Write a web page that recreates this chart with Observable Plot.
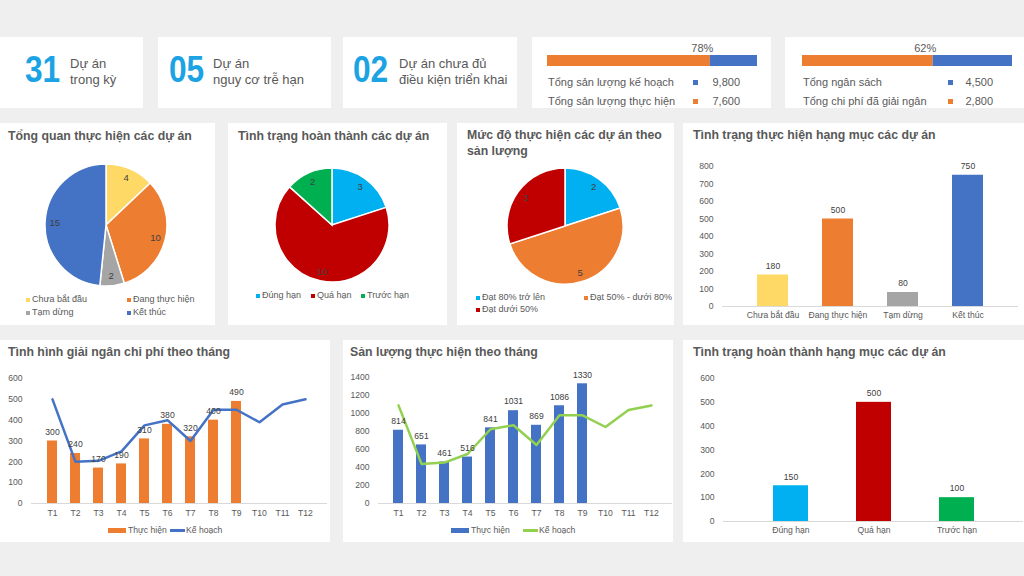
<!DOCTYPE html>
<html><head><meta charset="utf-8">
<script src="https://cdn.jsdelivr.net/npm/d3@7"></script>
<script src="https://cdn.jsdelivr.net/npm/@observablehq/plot@0.6"></script>
<style>
body{margin:0;background:#efefef;font-family:"Liberation Sans",Arial,sans-serif;}
#dash{position:relative;width:1024px;height:576px;overflow:hidden;background:#efefef}
.pn{position:absolute;background:#fff}
.t{position:absolute;white-space:nowrap;color:#595959;line-height:1}
.ttl{position:absolute;white-space:nowrap;color:#595959;font-weight:bold;font-size:12.3px;line-height:16px}
.abs{position:absolute}
.sq{position:absolute;width:5px;height:5px}
</style></head><body><div id="dash"></div>
<script>
// ---------- DATA ----------
const kpiNumbers = ["31", "05", "02"];
const kpiLabels = [["Dự án", "trong kỳ"], ["Dự án", "nguy cơ trễ hạn"], ["Dự án chưa đủ", "điều kiện triển khai"]];
const outputPlanTotal = 9800, outputActualTotal = 7600;
const budgetTotal = 4500, budgetSpent = 2800;
const outputLegend = ["Tổng sản lượng kế hoạch", "Tổng sản lượng thực hiện"];
const budgetLegend = ["Tổng ngân sách", "Tổng chi phí đã giải ngân"];

const statusCats = ["Chưa bắt đầu", "Đang thực hiện", "Tạm dừng", "Kết thúc"];
const statusProjects = [4, 10, 2, 15];
const statusColors = ["#ffd966", "#ed7d31", "#a5a5a5", "#4472c4"];

const doneCats = ["Đúng hạn", "Quá hạn", "Trước hạn"];
const doneProjects = [3, 10, 2];
const doneColors = ["#00b0f0", "#c00000", "#00b050"];

const levelCats = ["Đạt 80% trở lên", "Đạt 50% - dưới 80%", "Đạt dưới 50%"];
const levelProjects = [2, 5, 3];
const levelColors = ["#00b0f0", "#ed7d31", "#c00000"];

const statusItems = [180, 500, 80, 750];
const doneItems = [150, 500, 100];

const months = ["T1","T2","T3","T4","T5","T6","T7","T8","T9","T10","T11","T12"];
const costActual = [300, 240, 170, 190, 310, 380, 320, 400, 490];
const costPlan = [500, 200, 205, 250, 375, 400, 300, 450, 450, 390, 475, 500];
const outActual = [814, 651, 461, 516, 841, 1031, 869, 1086, 1330];
const outPlan = [1090, 440, 455, 550, 825, 870, 650, 980, 980, 850, 1040, 1090];

// ---------- HELPERS ----------
const dash = document.getElementById("dash");
const FONT = '"Liberation Sans", Arial, sans-serif';
function panel(x, y, w, h) { const d = document.createElement("div"); d.className = "pn"; Object.assign(d.style, {left: x+"px", top: y+"px", width: w+"px", height: h+"px"}); dash.appendChild(d); }
function text(x, y, s, css = {}, cls = "t") { const d = document.createElement("div"); d.className = cls; d.textContent = s; Object.assign(d.style, {left: x+"px", top: y+"px"}, css); dash.appendChild(d); return d; }
function sq(x, y, c, w = 5, h = 5) { const d = document.createElement("div"); d.className = "sq"; Object.assign(d.style, {left: x+"px", top: y+"px", width: w+"px", height: h+"px", background: c}); dash.appendChild(d); }
function place(svg, x, y) { svg.classList.add("abs"); svg.style.left = x + "px"; svg.style.top = y + "px"; dash.appendChild(svg); }
const baseStyle = {fontFamily: FONT, fontSize: "8.6px", color: "#595959", background: "transparent", overflow: "visible"};
const plain = d3.format("d");

// ---------- PANELS ----------
panel(0, 37, 143, 71); panel(158, 37, 173, 71); panel(343, 37, 174, 71);
panel(532, 37, 239, 71); panel(785, 37, 239, 71);
panel(0, 123, 215, 202); panel(228, 123, 219, 202); panel(457, 123, 217, 202); panel(683, 123, 341, 202);
panel(0, 340, 330, 202); panel(343, 340, 330, 202); panel(683, 340, 341, 202);

// ---------- KPI ----------
const kpiX = [[25, 70], [169, 213], [353, 399]];
kpiNumbers.forEach((n, i) => {
  text(kpiX[i][0], 52, n, {fontSize: "36px", fontWeight: "bold", color: "#1ca3e3", transform: "scaleX(0.88)", transformOrigin: "left"});
  text(kpiX[i][1], 57, kpiLabels[i][0], {fontSize: "13px"});
  text(kpiX[i][1], 73, kpiLabels[i][1], {fontSize: "13px"});
});

function progress(x, total, part, legend, values, mx, vxr) {
  const pct = Math.round(part / total * 100) + "%";
  place(Plot.plot({
    width: 210, height: 26, marginTop: 15, marginBottom: 0, marginLeft: 0, marginRight: 0,
    style: {...baseStyle, fontSize: "11px"},
    x: {domain: [0, total], axis: null},
    marks: [
      Plot.barX([{a: 0, b: part}], {x1: "a", x2: "b", fill: "#ed7d31"}),
      Plot.barX([{a: part, b: total}], {x1: "a", x2: "b", fill: "#4472c4"}),
      Plot.text([{v: part, t: pct}], {x: "v", text: "t", frameAnchor: "top", lineAnchor: "middle", dy: -7, dx: -8, fill: "#595959"})
    ]
  }), x, 40);
  const cols = ["#4472c4", "#ed7d31"];
  [0, 1].forEach(i => {
    const y = i === 0 ? 83 : 102;
    text(x + 1, y - 6, legend[i], {fontSize: "11px"});
    sq(mx, y - 3, cols[i]);
    text(vxr - 60, y - 6, d3.format(",")(values[i]), {fontSize: "11px", width: "60px", textAlign: "right"});
  });
}
progress(547, outputPlanTotal, outputActualTotal, outputLegend, [outputPlanTotal, outputActualTotal], 693, 740);
progress(802, budgetTotal, budgetSpent, budgetLegend, [budgetTotal, budgetSpent], 948, 993);

// ---------- PIES ----------
function pie(vals, colors, cx, cy, r) {
  const size = 2 * r + 6;
  const arcs = d3.pie().sort(null).value(d => d)(vals);
  const render = (index, scales, values, dims) => {
    const g = d3.create("svg:g").attr("transform", `translate(${dims.width / 2},${dims.height / 2})`);
    const arc = d3.arc().innerRadius(0).outerRadius(r);
    g.selectAll("path").data(arcs).join("path").attr("d", arc).attr("fill", (d, i) => colors[i]).attr("stroke", "#fff").attr("stroke-width", 1.5);
    const la = d3.arc().innerRadius(r * 0.84).outerRadius(r * 0.84);
    g.selectAll("text").data(arcs).join("text").attr("transform", d => `translate(${la.centroid(d)})`)
      .attr("text-anchor", "middle").attr("dy", "0.35em").attr("fill", "#404040").attr("font-size", "9.5px").text(d => d.data);
    return g.node();
  };
  place(Plot.plot({width: size, height: size, margin: 0, style: baseStyle, marks: [render]}), cx - size / 2, cy - size / 2);
}
pie(statusProjects, statusColors, 106, 225, 61);
pie(doneProjects, doneColors, 332, 225, 57);
pie(levelProjects, levelColors, 565, 226, 58);

text(8, 128, "Tổng quan thực hiện các dự án", {}, "ttl");
text(238, 128, "Tình trạng hoàn thành các dự án", {}, "ttl");
text(467, 127, "Mức độ thực hiện các dự án theo", {}, "ttl");
text(467, 143, "sản lượng", {}, "ttl");
text(693, 127, "Tình trạng thực hiện hạng mục các dự án", {}, "ttl");
text(8, 344, "Tình hình giải ngân chi phí theo tháng", {}, "ttl");
text(350, 344, "Sản lượng thực hiện theo tháng", {}, "ttl");
text(693, 344, "Tình trạng hoàn thành hạng mục các dự án", {}, "ttl");

function legendItem(mx, y, c, s) { sq(mx, y - 2, c, 4, 4); text(mx + 6, y - 5, s, {fontSize: "9px"}); }
legendItem(26, 300, statusColors[0], statusCats[0]);
legendItem(127, 300, statusColors[1], statusCats[1]);
legendItem(26, 313, statusColors[2], statusCats[2]);
legendItem(127, 313, statusColors[3], statusCats[3]);
legendItem(256, 296, doneColors[0], doneCats[0]);
legendItem(311, 296, doneColors[1], doneCats[1]);
legendItem(361, 296, doneColors[2], doneCats[2]);
legendItem(476, 298, levelColors[0], levelCats[0]);
legendItem(584, 298, levelColors[1], levelCats[1]);
legendItem(476, 310, levelColors[2], levelCats[2]);

// ---------- BAR CHARTS ----------
function catBars(cats, vals, colors, x, y, w, h, m, ymax, pad) {
  const data = cats.map((c, i) => ({c, v: vals[i], col: colors[i]}));
  place(Plot.plot({
    width: w, height: h, marginLeft: m[0], marginRight: m[1], marginTop: m[2], marginBottom: m[3],
    style: baseStyle,
    x: {domain: cats, padding: pad, label: null, tickSize: 0, tickPadding: 5},
    y: {domain: [0, ymax], ticks: d3.range(0, ymax + 1, 100), tickFormat: plain, label: null, tickSize: 0, tickPadding: 9},
    marks: [
      Plot.ruleY([0], {stroke: "#d9d9d9"}),
      Plot.barY(data, {x: "c", y: "v", fill: "col"}),
      Plot.text(data, {x: "c", y: "v", text: d => plain(d.v), dy: -9, fill: "#404040"})
    ]
  }), x, y);
}
catBars(statusCats, statusItems, statusColors, 683, 123, 341, 202, [39, 6, 43, 19], 800, 0.53);
catBars(doneCats, doneItems, doneColors, 683, 340, 341, 202, [40, 1, 38, 21], 600, 0.58);

// ---------- COMBO CHARTS ----------
function combo(actual, plan, barColor, lineColor, x, m, ymax, step) {
  const bars = actual.map((v, i) => ({m: months[i], v}));
  const line = plan.map((v, i) => ({m: months[i], v}));
  place(Plot.plot({
    width: 330, height: 200, marginLeft: m[0], marginRight: m[1], marginTop: m[2], marginBottom: m[3],
    style: baseStyle,
    x: {domain: months, padding: 0.55, label: null, tickSize: 0, tickPadding: 6},
    y: {domain: [0, ymax], ticks: d3.range(0, ymax + 1, step), tickFormat: plain, label: null, tickSize: 0, tickPadding: 9},
    marks: [
      Plot.ruleY([0], {stroke: "#d9d9d9"}),
      Plot.barY(bars, {x: "m", y: "v", fill: barColor}),
      Plot.line(line, {x: "m", y: "v", stroke: lineColor, strokeWidth: 2.5}),
      Plot.text(bars, {x: "m", y: "v", text: d => plain(d.v), dy: -9, fill: "#404040"})
    ]
  }), x, 340);
}
combo(costActual, costPlan, "#ed7d31", "#4472c4", 0, [31, 3, 38, 37], 600, 100);
combo(outActual, outPlan, "#4472c4", "#92d050", 343, [35, 1, 37, 37], 1400, 200);

// combo legends
sq(108, 528, "#ed7d31", 18, 5); text(128, 526, "Thực hiện", {fontSize: "8.6px"});
sq(170, 529, "#4472c4", 15, 2.5); text(186, 526, "Kế hoạch", {fontSize: "8.6px"});
sq(451, 528, "#4472c4", 18, 5); text(471, 526, "Thực hiện", {fontSize: "8.6px"});
sq(523, 529, "#92d050", 15, 2.5); text(539, 526, "Kế hoạch", {fontSize: "8.6px"});
</script></body></html>
